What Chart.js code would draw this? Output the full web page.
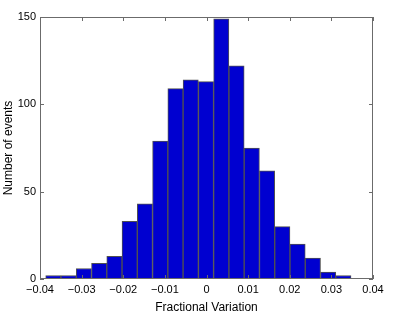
<!DOCTYPE html>
<html>
<head>
<meta charset="utf-8">
<script src="https://cdn.jsdelivr.net/npm/chart.js@4"></script>
<style>
html, body { margin: 0; padding: 0; background: #fff; }
#histChart { display: block; }
</style>
</head>
<body>
<canvas id="histChart" width="415" height="318"></canvas>
<script>
// histogram bins (centers) and counts
const binCenters = [-0.03680, -0.03313, -0.02946, -0.02579, -0.02213, -0.01846, -0.01479, -0.01112, -0.00746, -0.00379,
  -0.00012, 0.00355, 0.00722, 0.01088, 0.01455, 0.01822, 0.02189, 0.02556, 0.02922, 0.03289];
const counts = [2, 2, 6, 9, 13, 33, 43, 79, 109, 114, 113, 149, 122, 75, 62, 30, 20, 12, 4, 2];
const xTicks = [-0.04, -0.03, -0.02, -0.01, 0, 0.01, 0.02, 0.03, 0.04];
const yTicks = [0, 50, 100, 150];

const font = { family: '"Liberation Sans", Arial, sans-serif', size: 11 };

// box round the plot with inward ticks on all four sides
const frame = {
  id: 'frame',
  afterDraw(chart) {
    const c = chart.ctx, a = chart.chartArea;
    const xs = chart.scales.x, ys = chart.scales.y;
    c.save();
    c.strokeStyle = '#6b6b6b';
    c.lineWidth = 1;
    c.strokeRect(a.left + 0.5, a.top + 0.5, a.right - a.left - 1, a.bottom - a.top - 1);
    c.beginPath();
    xTicks.forEach(v => {
      const px = Math.round(xs.getPixelForValue(v)) + 0.5;
      c.moveTo(px, a.bottom); c.lineTo(px, a.bottom - 4);
      c.moveTo(px, a.top); c.lineTo(px, a.top + 4);
    });
    yTicks.forEach(v => {
      const py = Math.round(ys.getPixelForValue(v)) + 0.5;
      c.moveTo(a.left, py); c.lineTo(a.left + 4, py);
      c.moveTo(a.right, py); c.lineTo(a.right - 4, py);
    });
    c.stroke();
    c.restore();
  }
};

const fmt = v => (v === 0 ? '0' : (Math.abs(v) >= 1 ? String(v) : v.toFixed(2))).replace('-', '\u2212');

new Chart(document.getElementById('histChart'), {
  type: 'bar',
  data: {
    datasets: [{
      data: binCenters.map((x, i) => ({ x: x, y: counts[i] })),
      backgroundColor: '#0000d0',
      borderColor: '#505050',
      borderWidth: 1,
      borderSkipped: false,
      barPercentage: 1,
      categoryPercentage: 1
    }]
  },
  options: {
    responsive: false,
    animation: false,
    layout: { padding: { top: 17, right: 42, left: 0, bottom: 0 } },
    plugins: { legend: { display: false }, tooltip: { enabled: false } },
    scales: {
      x: {
        type: 'linear',
        offset: false,
        min: -0.04, max: 0.04,
        afterBuildTicks: s => { s.ticks = xTicks.map(v => ({ value: v })); },
        afterFit: s => { s.height = 39; },
        grid: { display: false, drawTicks: false, tickLength: 0, offset: false },
        border: { display: false },
        ticks: { font: font, color: '#000', padding: 4, maxRotation: 0, autoSkip: false, callback: v => fmt(v) },
        title: { display: true, text: 'Fractional Variation', color: '#000', font: { family: font.family, size: 12 }, padding: { top: 0, bottom: 3 } }
      },
      y: {
        min: 0, max: 150,
        afterBuildTicks: s => { s.ticks = yTicks.map(v => ({ value: v })); },
        afterFit: s => { s.width = 40; },
        grid: { display: false, drawTicks: false, tickLength: 0 },
        border: { display: false },
        ticks: { font: font, color: '#000', padding: 4, callback: v => fmt(v) },
        title: { display: true, text: 'Number of events', color: '#000', font: { family: font.family, size: 12 }, padding: { top: 1, bottom: 0 } }
      }
    }
  },
  plugins: [frame]
});
</script>
</body>
</html>
